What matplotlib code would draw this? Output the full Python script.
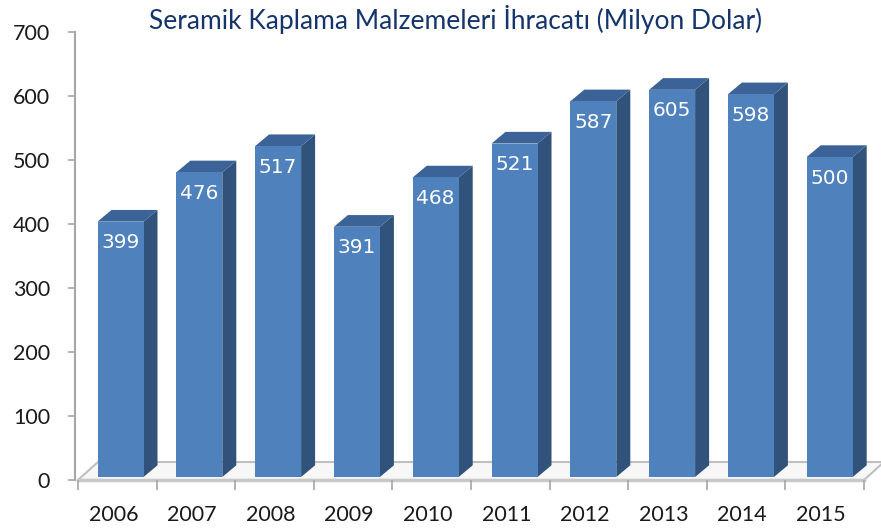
import matplotlib.pyplot as plt
from matplotlib.patches import Polygon

years = ['2006', '2007', '2008', '2009', '2010', '2011', '2012', '2013', '2014', '2015']
exports = [399, 476, 517, 391, 468, 521, 587, 605, 598, 500]
yticks = [0, 100, 200, 300, 400, 500, 600, 700]

title = 'Seramik Kaplama Malzemeleri İhracatı (Milyon Dolar)'

front_c = '#4F81BD'
side_c = '#30527B'
top_c = '#3B6397'
grid_c = '#A6A6A6'

W, H = 881, 528
fig = plt.figure(figsize=(W / 100, H / 100), dpi=100)
ax = fig.add_axes([78 / W, (H - 480) / H, (864 - 78) / W, (480 - 32) / H])
ax.set_xlim(-0.5, 9.5)
ax.set_ylim(0, 700)

px_x = (864 - 78) / 10.0   # pixels per category
px_y = 448 / 700.0         # pixels per unit

# 3d look
base = 3 / px_y
dx, dy = 14 / px_x, 11.7 / px_y
fx, fy = 20 / px_x, 18 / px_y
bw = 46 / px_x
off = 19.5 / px_x

# floor
floor = Polygon([(-0.5, 0), (9.5, 0), (9.5 + fx, fy), (-0.5 + fx, fy)],
                closed=True, facecolor='#F7F7F7', edgecolor='#BFBFBF',
                lw=1.5, clip_on=False, zorder=1)
ax.add_patch(floor)
ax.plot([-0.5, 9.5], [0, 0], color='#C8C8C8', lw=2.5, clip_on=False, zorder=1.5)

for i, v in enumerate(exports):
    x0 = i - 0.5 + off + i * 0.2 / px_x
    x1 = x0 + bw
    y0 = base
    y1 = base + v
    ax.add_patch(Polygon([(x1, y0), (x1 + dx, y0 + dy), (x1 + dx, y1 + dy), (x1, y1)],
                         closed=True, facecolor=side_c, edgecolor='none',
                         clip_on=False, zorder=3))
    ax.add_patch(Polygon([(x0, y1), (x1, y1), (x1 + dx, y1 + dy), (x0 + dx, y1 + dy)],
                         closed=True, facecolor=top_c, edgecolor='none',
                         clip_on=False, zorder=3))
    ax.add_patch(Polygon([(x0, y0), (x1, y0), (x1, y1), (x0, y1)],
                         closed=True, facecolor=front_c, edgecolor='none',
                         clip_on=False, zorder=4))
    ax.text((x0 + x1) / 2, y1 - 21 / px_y, str(v), color='white',
            ha='center', va='center', fontsize=14.5, family='DejaVu Sans',
            zorder=5)

for s in ['top', 'right', 'bottom']:
    ax.spines[s].set_visible(False)
ax.spines['left'].set_color(grid_c)
ax.spines['left'].set_linewidth(1.5)
ax.spines['left'].set_position(('outward', 2))

ax.set_yticks(yticks)
ax.set_yticklabels([str(t) for t in yticks])
ax.tick_params(axis='y', length=5, width=1.2, color=grid_c, pad=13,
               labelsize=15.5, labelcolor='#1A1A1A')
for lb in ax.get_yticklabels():
    lb.set_family('Lato')

ax.set_xticks([i - 0.5 for i in range(11)])
ax.set_xticklabels([])
ax.tick_params(axis='x', which='major', length=7, width=1.2, color=grid_c,
               direction='out')
ax.set_xticks([i - 0.05 for i in range(len(years))], minor=True)
ax.set_xticklabels(years, minor=True)
ax.tick_params(axis='x', which='minor', length=0, pad=18, labelsize=15.5,
               labelcolor='#1A1A1A')
for lb in ax.get_xticklabels(minor=True):
    lb.set_family('Lato')
ax.patch.set_alpha(0)

fig.text(456 / W, 1 - 19 / H, title, ha='center', va='center',
         fontsize=19, color='#14346B', family='Lato')

fig.savefig('out.png', dpi=100)
